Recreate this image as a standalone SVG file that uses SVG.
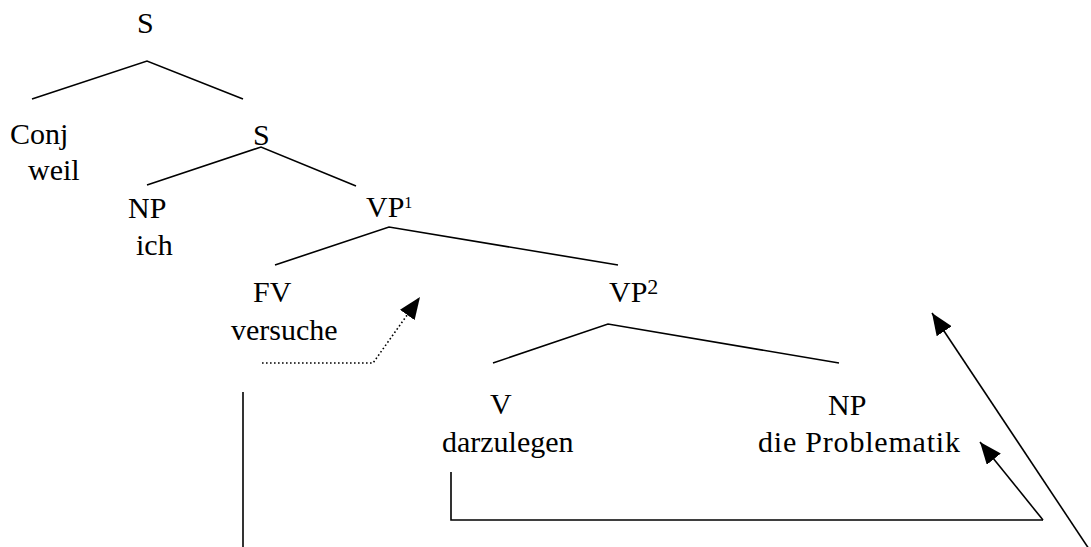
<svg xmlns="http://www.w3.org/2000/svg" width="1091" height="547" viewBox="0 0 1091 547">
<style>
text{font-family:"Liberation Serif","Times New Roman",serif;font-size:30px;fill:#000}
.sup{font-size:22px}
.e{fill:none;stroke:#000;stroke-width:1.6}
.dot{fill:none;stroke:#000;stroke-width:1.6;stroke-dasharray:1.6 2.4}
</style>
<defs>
<marker id="ah" markerUnits="userSpaceOnUse" markerWidth="24" markerHeight="18" viewBox="0 0 24 18" refX="22" refY="9" orient="auto">
<path d="M0,0 L22,9 L0,18 Z" fill="#000"/>
</marker>
</defs>
<rect width="1091" height="547" fill="#fff"/>
<g id="connectors">
<polyline class="e" points="32,99 147,61 243,99"/>
<polyline class="e" points="147,185 261,147 356,186"/>
<polyline class="e" points="275,265 389,227 618,265"/>
<polyline class="e" points="493,363 608,324 839,363"/>
<polyline class="e" points="451,472 451,520 1043,520"/>
<line class="e" x1="1043" y1="520" x2="980" y2="442" marker-end="url(#ah)"/>
<line class="e" x1="1089" y1="549" x2="932" y2="313" marker-end="url(#ah)"/>
<polyline class="dot" points="262,363 373,363 420,297" marker-end="url(#ah)"/>
<line class="e" x1="243" y1="392" x2="243" y2="547"/>
</g>
<g id="n-s"><text x="137" y="33">S</text></g>
<g id="n-conj"><text x="10" y="144">Conj</text><text x="28" y="180">weil</text></g>
<g id="n-s2"><text x="253" y="145">S</text></g>
<g id="n-np1"><text x="128" y="218">NP</text><text x="136" y="255">ich</text></g>
<g id="n-vp1"><text x="366" y="217">VP<tspan font-size="16" dy="-9">1</tspan></text></g>
<g id="n-fv"><text x="253" y="302">FV</text><text x="231" y="340">versuche</text></g>
<g id="n-vp2"><text x="609" y="302">VP<tspan class="sup" dy="-8">2</tspan></text></g>
<g id="n-v"><text x="490" y="414">V</text><text x="442" y="452">darzulegen</text></g>
<g id="n-np2"><text x="828" y="415">NP</text><text x="758" y="452" textLength="202">die Problematik</text></g>
</svg>
